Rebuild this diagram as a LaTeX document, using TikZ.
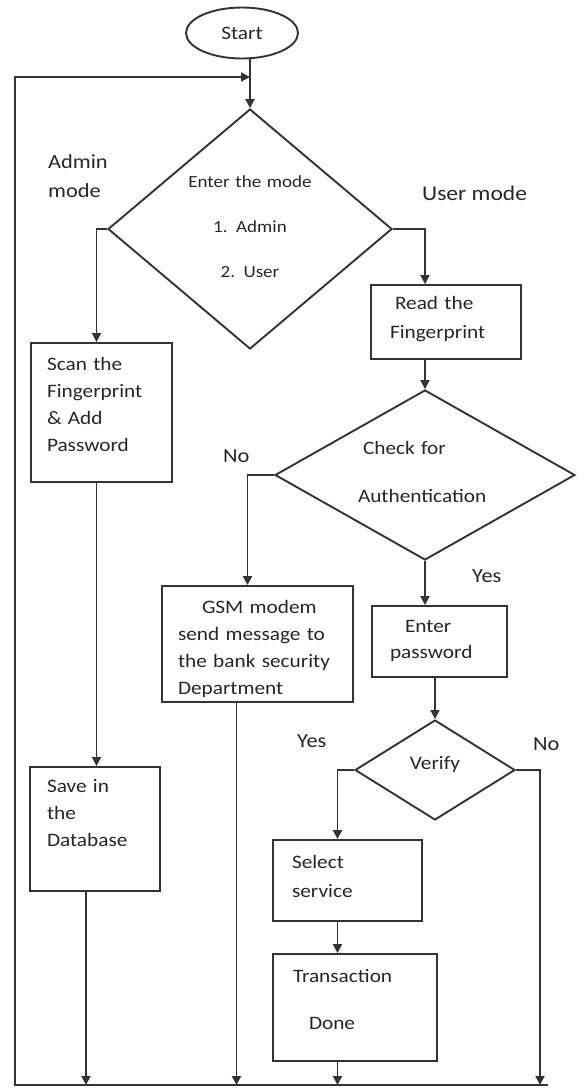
\documentclass[tikz,border=0pt]{standalone}
\usepackage{fontspec}
\setmainfont{Carlito}[FakeStretch=1.12]
\usetikzlibrary{arrows.meta,shapes.geometric}
\tikzset{
  terminal/.style={ellipse, draw=black!80, line width=1.9pt, inner sep=0pt, minimum width=112pt, minimum height=51pt, font=\fontsize{19}{23}\selectfont},
  procbox/.style={draw=black!80, line width=1.9pt, align=left, inner sep=0pt, text height=0pt, font=\fontsize{19}{27}\selectfont},
  decision/.style={diamond, draw=black!80, line width=1.9pt, inner sep=0pt, text height=0pt, font=\fontsize{19}{27}\selectfont},
  lbl/.style={inner sep=0pt, anchor=base west, font=\fontsize{20}{29}\selectfont},
  arrow/.style={-{Triangle[length=9pt,width=9pt]}, line width=1.9pt, draw=black!80}
}

\begin{document}
\begin{tikzpicture}[x=1pt,y=-1pt,text=black!85]
  \useasboundingbox (0,0) rectangle (585,1088);
  \node[terminal] (start) at (242,33) {Start};
  \node[decision, aspect=1.2, minimum width=284pt, minimum height=240pt, text width=130pt, align=center, text depth=84pt, font=\fontsize{17}{45}\selectfont] (mode) at (250,229) {Enter the mode\\1. Admin\\2. User};
  \node[procbox, minimum width=141pt, minimum height=139pt, text width=109pt, text depth=85pt] (scan) at (101.5,412.5) {Scan the\\Fingerprint\\\& Add\\Password};
  \node[procbox, minimum width=130pt, minimum height=124pt, text width=96pt, text depth=74pt] (save) at (95,829) {Save in\\the\\Database};
  \node[procbox, minimum width=150pt, minimum height=74pt, text width=112pt, text depth=26pt] (read) at (446,322) {\hspace*{5pt}Read the\\[2pt]Fingerprint};
  \node[decision, aspect=1.76, minimum width=300pt, minimum height=170pt, text width=134pt, align=left, text depth=42pt] (auth) at (425,475) {\hspace*{5pt}Check for\\[21pt]Authentication};
  \node[procbox, minimum width=191pt, minimum height=116pt, text width=159pt, text depth=62pt] (gsm) at (257.5,644) {\hspace*{24pt}GSM modem\\send message to\\the bank security\\Department};
  \node[procbox, minimum width=135pt, minimum height=71pt, text width=99pt, text depth=19pt] (enter) at (439.5,641.5) {\hspace*{15pt}Enter\\[-1pt]password};
  \node[decision, aspect=1.6, minimum width=160pt, minimum height=100pt, text width=60pt, align=center, text depth=2pt] (verify) at (435,770) {Verify};
  \node[procbox, minimum width=149pt, minimum height=81pt, text width=111pt, text depth=25pt] (select) at (347.5,880.5) {Select\\[2pt]service};
  \node[procbox, minimum width=164pt, minimum height=107pt, text width=124pt, text depth=51pt] (trans) at (355,1007.5) {Transaction\\[20pt]\hspace*{16pt}Done};
  % branch labels
  \node[lbl, text width=70pt, align=left] (adminlbl) at (48,168) {Admin\\mode};
  \node[lbl, font=\fontsize{21}{29}\selectfont] (userlbl) at (422,200) {User mode};
  \node[lbl] (authno) at (223,462) {No};
  \node[lbl] (authyes) at (472,582) {Yes};
  \node[lbl] (veryes) at (297,747) {Yes};
  \node[lbl] (verno) at (533,750) {No};
  % return bus
  \coordinate (busL) at (15,1085);
  \coordinate (busR) at (548,1085);
  \coordinate (merge) at (250,77);
  \coordinate (scanout) at ([xshift=-5pt]scan.south);
  \coordinate (saveout) at ([xshift=-9pt]save.south);
  \coordinate (gsmout) at ([xshift=-21pt]gsm.south);
  \coordinate (selout) at ([xshift=-10pt]select.south);
  \coordinate (transout) at (selout |- trans.south);
  \draw[arrow] (start.south -| mode.north) -- (mode.north);
  \draw[arrow] (busR) -- (busL) |- (merge);
  \draw[arrow] (mode.west) -| ([xshift=-5pt]scan.north);
  \draw[arrow] (scanout) -- (scanout |- save.north);
  \draw[arrow] (saveout) -- (saveout |- busL);
  \draw[arrow] (mode.east) -| (auth.north |- read.north);
  \draw[arrow] (auth.north |- read.south) -- (auth.north);
  \draw[arrow] (auth.west) -| ([xshift=-10pt]gsm.north);
  \draw[arrow] (gsmout) -- (gsmout |- busL);
  \draw[arrow] (auth.south) -- (auth.south |- enter.north);
  \draw[arrow] (verify.north |- enter.south) -- (verify.north);
  \draw[arrow] (verify.west) -| ([xshift=-10pt]select.north);
  \draw[arrow] (selout) -- (selout |- trans.north);
  \draw[arrow] (transout) -- (transout |- busL);
  \draw[arrow] (verify.east) -| ([xshift=-8pt]busR);
\end{tikzpicture}
\end{document}
